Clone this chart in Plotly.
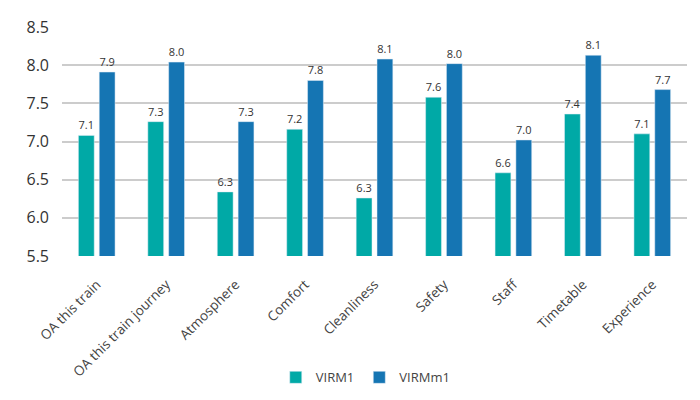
import plotly.graph_objects as go

categories = ["OA this train", "OA this train journey", "Atmosphere", "Comfort",
              "Cleanliness", "Safety", "Staff", "Timetable", "Experience"]
virm1 = [7.08, 7.26, 6.34, 7.16, 6.26, 7.58, 6.59, 7.36, 7.10]
virmm1 = [7.91, 8.04, 7.26, 7.80, 8.08, 8.02, 7.02, 8.13, 7.68]
y_ticks = [5.5, 6.0, 6.5, 7.0, 7.5, 8.0, 8.5]

FONT = "Open Sans"
fig = go.Figure()
fig.add_trace(go.Bar(name="VIRM1", x=categories, y=virm1, marker_color="#00a9a6",
                     texttemplate="%{y:.1f}", textposition="outside", cliponaxis=False,
                     textfont=dict(size=11, color="#333333", family=FONT)))
fig.add_trace(go.Bar(name="VIRMm1", x=categories, y=virmm1, marker_color="#1575b3",
                     texttemplate="%{y:.1f}", textposition="outside", cliponaxis=False,
                     textfont=dict(size=11, color="#333333", family=FONT)))

fig.update_layout(
    width=692, height=392,
    margin=dict(l=54, r=13, t=19, b=144, autoexpand=False),
    paper_bgcolor="white", plot_bgcolor="white",
    barmode="group", bargap=0.40, bargroupgap=0.24,
    font=dict(family=FONT, color="#333333"),
    showlegend=True,
    legend=dict(orientation="h", x=0.486, xanchor="center", y=-0.53, yanchor="middle",
                font=dict(size=13, color="#444444"), itemwidth=30),
    xaxis=dict(tickangle=-45, tickfont=dict(size=13.5, color="#444444"), showgrid=False,
               showline=False, ticks="", automargin=False, ticklabelstandoff=17),
    yaxis=dict(range=[5.5, 8.5], tickvals=y_ticks, ticktext=[f"{v:.1f}" for v in y_ticks],
               showgrid=True, gridcolor="#cccccc", gridwidth=2, zeroline=False,
               tickfont=dict(size=16, color="#333333"), ticks="", ticklabelstandoff=12,
               automargin=False),
)
fig.write_html("out.html")
